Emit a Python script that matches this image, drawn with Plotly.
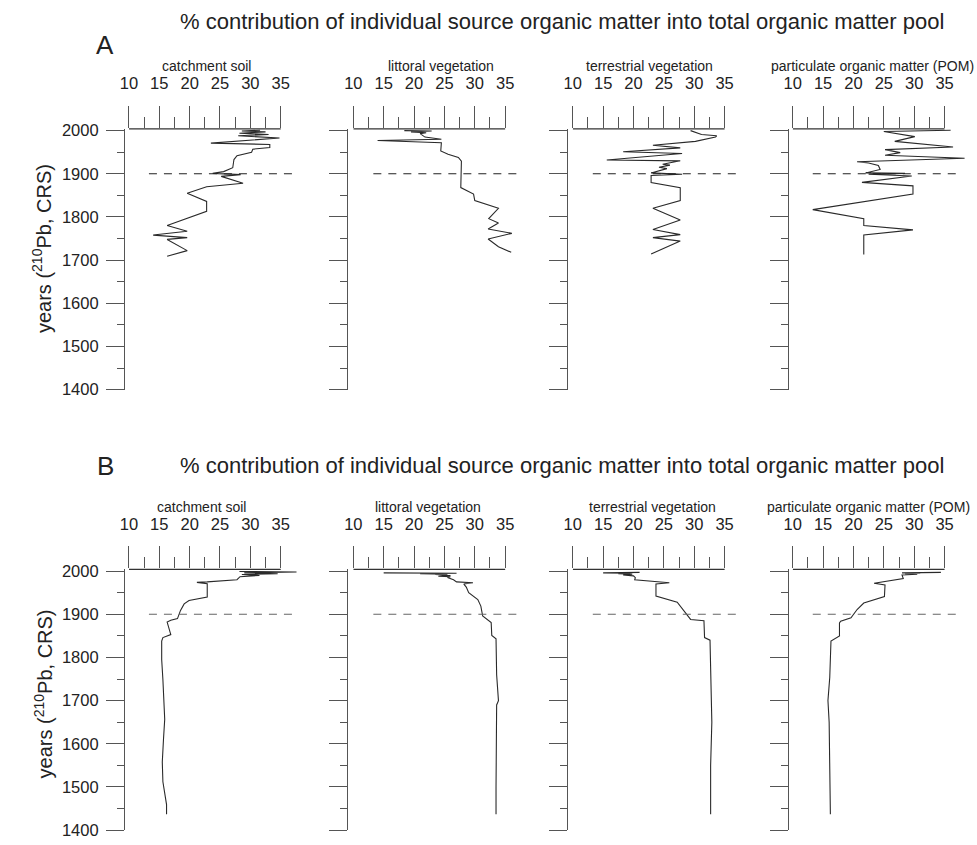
import plotly.graph_objects as go

# ---------------------------------------------------------------- data
PANELS = ["A", "B"]
SOURCES = ["catchment soil", "littoral vegetation",
           "terrestrial vegetation", "particulate organic matter (POM)"]
TITLE = "% contribution of individual source organic matter into total organic matter pool"
Y_TITLE = "years (<sup>210</sup>Pb, CRS)"

X_TICKS = [10, 15, 20, 25, 30, 35]
X_MINOR = [12.5, 17.5, 22.5, 27.5, 32.5]
Y_TICKS = [1400, 1500, 1600, 1700, 1800, 1900, 2000]
Y_MINOR = [1450, 1550, 1650, 1750, 1850, 1950]

HORIZON_YEAR = 1900
HORIZON_SPAN = [13.3, 37.1]

# panel A
A_SOIL_YEAR = [2001, 1999, 1997, 1994, 1991, 1988, 1983, 1971, 1968, 1961, 1957,
               1950, 1942, 1933, 1914, 1905, 1901, 1898, 1894, 1878, 1870, 1855,
               1836, 1813, 1780, 1767, 1758, 1752, 1748, 1722, 1709]
A_SOIL_PCT = [31.6, 28.6, 32.5, 28.2, 33.0, 28.0, 34.8, 23.5, 33.2, 33.2, 30.4,
              30.2, 27.8, 27.3, 27.1, 25.6, 23.8, 28.4, 25.2, 28.8, 22.8, 19.6,
              22.8, 22.8, 16.3, 19.6, 14.0, 19.6, 16.3, 19.6, 16.3]

A_LITT_YEAR = [2000, 1999, 1997, 1995, 1993, 1985, 1980, 1977, 1972, 1953, 1945,
               1938, 1929, 1906, 1868, 1853, 1838, 1820, 1796, 1786, 1772, 1762,
               1749, 1731, 1718]
A_LITT_PCT = [18.4, 22.9, 19.5, 22.0, 21.0, 21.8, 24.5, 14.0, 24.5, 24.4, 25.6,
              27.3, 27.8, 27.8, 27.7, 29.8, 30.0, 33.9, 32.3, 33.9, 32.2, 36.1,
              32.2, 33.9, 36.0]

A_TERR_YEAR = [2000, 1995, 1991, 1988, 1985, 1975, 1972, 1966, 1960, 1951, 1947,
               1932, 1930, 1922, 1920, 1915, 1912, 1902, 1899, 1896, 1880, 1868,
               1838, 1820, 1793, 1771, 1759, 1752, 1744, 1714]
A_TERR_PCT = [29.4, 30.5, 31.2, 33.7, 33.5, 30.2, 27.5, 23.2, 27.7, 18.3, 28.0,
              15.6, 27.7, 24.8, 26.0, 24.2, 25.5, 22.9, 28.0, 22.9, 22.9, 27.7,
              27.7, 23.2, 27.7, 23.2, 27.7, 23.2, 27.7, 22.9]

A_POM_YEAR = [2001, 1998, 1986, 1975, 1962, 1956, 1949, 1943, 1936, 1928, 1925,
              1919, 1910, 1902, 1901, 1899, 1895, 1880, 1872, 1853, 1817, 1796,
              1780, 1770, 1758, 1713]
A_POM_PCT = [36.0, 25.0, 30.1, 26.8, 36.4, 25.2, 27.7, 25.2, 38.3, 20.6, 22.5,
             24.1, 24.4, 22.0, 28.5, 22.5, 29.6, 21.4, 29.8, 29.8, 13.3, 21.7,
             21.7, 29.8, 21.7, 21.7]

# panel B
B_SOIL_YEAR = [1999, 1998, 1996, 1994, 1992, 1990, 1987, 1980, 1975, 1974, 1971,
               1940, 1932, 1924, 1909, 1890, 1886, 1882, 1853, 1846, 1838, 1795,
               1749, 1703, 1657, 1611, 1558, 1512, 1459, 1437]
B_SOIL_PCT = [28.2, 37.6, 29.0, 34.5, 28.6, 31.5, 28.3, 27.8, 22.9, 21.2, 22.9,
              22.9, 19.9, 19.1, 18.5, 18.0, 16.9, 16.3, 16.9, 15.6, 15.4, 15.4,
              15.6, 15.8, 15.9, 15.7, 15.5, 15.6, 16.2, 16.2]

B_LITT_YEAR = [1996, 1995, 1994, 1993, 1992, 1990, 1988, 1987, 1985, 1980, 1975,
               1973, 1970, 1963, 1950, 1934, 1919, 1896, 1889, 1881, 1851, 1843,
               1760, 1700, 1690, 1600, 1500, 1437]
B_LITT_PCT = [15.0, 27.0, 21.0, 25.5, 23.5, 26.0, 24.0, 26.0, 25.5, 26.5, 27.0,
              29.7, 28.2, 28.6, 29.0, 30.5, 31.0, 31.3, 31.9, 32.7, 32.8, 33.5,
              33.6, 33.9, 33.6, 33.5, 33.5, 33.5]

B_TERR_YEAR = [1997, 1996, 1995, 1994, 1993, 1991, 1989, 1985, 1980, 1976, 1973,
               1970, 1942, 1928, 1898, 1888, 1885, 1846, 1840, 1760, 1650, 1550,
               1437]
B_TERR_PCT = [21.0, 15.0, 19.5, 17.5, 19.8, 18.3, 20.0, 20.3, 20.2, 23.4, 25.9,
              23.7, 23.7, 27.2, 28.9, 29.4, 31.6, 31.7, 32.6, 32.7, 32.9, 32.7,
              32.7]

B_POM_YEAR = [1997, 1996, 1995, 1994, 1993, 1991, 1983, 1972, 1968, 1941, 1926,
              1911, 1892, 1884, 1880, 1850, 1838, 1754, 1700, 1650, 1550, 1437]
B_POM_PCT = [34.4, 28.0, 31.0, 28.5, 30.5, 28.0, 28.2, 23.4, 25.2, 25.1, 21.7,
             20.6, 19.6, 17.9, 17.7, 17.7, 16.3, 16.1, 15.8, 16.0, 16.1, 16.2]

SERIES = {
    "A": [(A_SOIL_YEAR, A_SOIL_PCT), (A_LITT_YEAR, A_LITT_PCT),
          (A_TERR_YEAR, A_TERR_PCT), (A_POM_YEAR, A_POM_PCT)],
    "B": [(B_SOIL_YEAR, B_SOIL_PCT), (B_LITT_YEAR, B_LITT_PCT),
          (B_TERR_YEAR, B_TERR_PCT), (B_POM_YEAR, B_POM_PCT)],
}

# ---------------------------------------------------------------- geometry (px)
W, H = 977, 845
Y_LINE_PX = [116, 341, 563, 786]        # left edge of each strip (year axis)
X_START_PX = [121, 347.5, 569, 791]     # where 10 % sits
PX_PER_PCT = 6.13
X_RANGE = [10, 39.5]
Y_RANGE = [1400, 2004]
PX_PER_YEAR = 0.44
Y2000_PX = {"A": 126, "B": 575}
TITLE_PX = {"A": 15, "B": 467}
LETTER_PX = {"A": (97, 39), "B": (97, 468)}
SUB_PX = {"A": [199, 436, 646, 872], "B": [194, 423, 649, 867]}
SUB_Y_PX = {"A": 60, "B": 510}
YTITLE_PX = {"A": (33, 246), "B": (35, 700)}
DASH_COLOR = {"A": "#222222", "B": "#666666"}

LINE = "#2a2a2a"
AXIS = "#555555"
TEXT = "#222222"
FONT = "Liberation Sans, Arial, sans-serif"


def px_x(p):
    return p / W


def px_y(p):
    return 1 - p / H


fig = go.Figure()
layout = {}
shapes = []
annotations = []

k = 0
for panel in PANELS:
    top_px = Y2000_PX[panel] - (Y_RANGE[1] - 2000) * PX_PER_YEAR
    bot_px = Y2000_PX[panel] + (2000 - Y_RANGE[0]) * PX_PER_YEAR
    for i, name in enumerate(SOURCES):
        k += 1
        sfx = "" if k == 1 else str(k)
        xa, ya = f"x{sfx}", f"y{sfx}"
        years, pct = SERIES[panel][i]

        fig.add_trace(go.Scatter(
            x=pct, y=years, xaxis=xa, yaxis=ya, mode="lines",
            line=dict(color=LINE, width=1.1), showlegend=False, hoverinfo="skip"))
        fig.add_trace(go.Scatter(
            x=HORIZON_SPAN, y=[HORIZON_YEAR, HORIZON_YEAR], xaxis=xa, yaxis=ya,
            mode="lines", line=dict(color=DASH_COLOR[panel], width=1.1, dash="8px,7px"),
            showlegend=False, hoverinfo="skip"))

        x0 = X_START_PX[i]
        x1 = x0 + (X_RANGE[1] - X_RANGE[0]) * PX_PER_PCT
        layout[f"xaxis{sfx}"] = dict(
            domain=[px_x(x0), px_x(x1)], range=X_RANGE, anchor=ya, side="top",
            showline=False, showgrid=False, zeroline=False,
            tickmode="array", tickvals=X_TICKS, ticktext=[str(v) for v in X_TICKS],
            ticks="outside", ticklen=22, tickwidth=1, tickcolor=AXIS,
            ticklabelstandoff=10,
            tickfont=dict(family=FONT, size=16.5, color=TEXT),
            minor=dict(tickmode="array", tickvals=X_MINOR, ticks="outside",
                       ticklen=11, tickwidth=1, tickcolor=AXIS, showgrid=False),
        )
        layout[f"yaxis{sfx}"] = dict(
            domain=[px_y(bot_px), px_y(top_px)], range=Y_RANGE,
            anchor="free", position=px_x(Y_LINE_PX[i]),
            showline=True, linecolor=AXIS, linewidth=1,
            showgrid=False, zeroline=False,
            tickmode="array", tickvals=Y_TICKS, ticktext=[str(v) for v in Y_TICKS],
            ticks="outside", ticklen=18, tickwidth=1, tickcolor=AXIS,
            showticklabels=(i == 0), ticklabelstandoff=4,
            tickfont=dict(family=FONT, size=16.5, color=TEXT),
            minor=dict(tickmode="array", tickvals=Y_MINOR, ticks="outside",
                       ticklen=7, tickwidth=1, tickcolor=AXIS, showgrid=False),
        )
        # percentage axis line, drawn only across the labelled 10-35 range
        shapes.append(dict(type="line", xref=xa, yref=f"{ya} domain",
                           x0=X_TICKS[0], x1=X_TICKS[-1], y0=1, y1=1,
                           line=dict(color="#333333", width=1.2)))
        annotations.append(dict(
            text=name, x=px_x(SUB_PX[panel][i]), y=px_y(SUB_Y_PX[panel]),
            xref="paper", yref="paper", xanchor="center", yanchor="middle",
            showarrow=False, font=dict(family=FONT, size=14, color=TEXT)))

    annotations.append(dict(
        text=TITLE, x=px_x(558), y=px_y(TITLE_PX[panel]), xref="paper", yref="paper",
        xanchor="center", yanchor="middle", showarrow=False,
        font=dict(family=FONT, size=22, color=TEXT)))
    lx, ly = LETTER_PX[panel]
    annotations.append(dict(
        text=panel, x=px_x(lx), y=px_y(ly), xref="paper", yref="paper",
        xanchor="center", yanchor="middle", showarrow=False,
        font=dict(family=FONT, size=26, color=TEXT)))
    tx, ty = YTITLE_PX[panel]
    annotations.append(dict(
        text=Y_TITLE, x=px_x(tx), y=px_y(ty), xref="paper", yref="paper",
        xanchor="center", yanchor="middle", textangle=-90, showarrow=False,
        font=dict(family=FONT, size=20, color=TEXT)))

fig.update_layout(
    width=W, height=H, margin=dict(l=0, r=0, t=0, b=0),
    paper_bgcolor="white", plot_bgcolor="white",
    shapes=shapes, annotations=annotations, **layout)

fig.write_html("out.html", config={"displayModeBar": False})
